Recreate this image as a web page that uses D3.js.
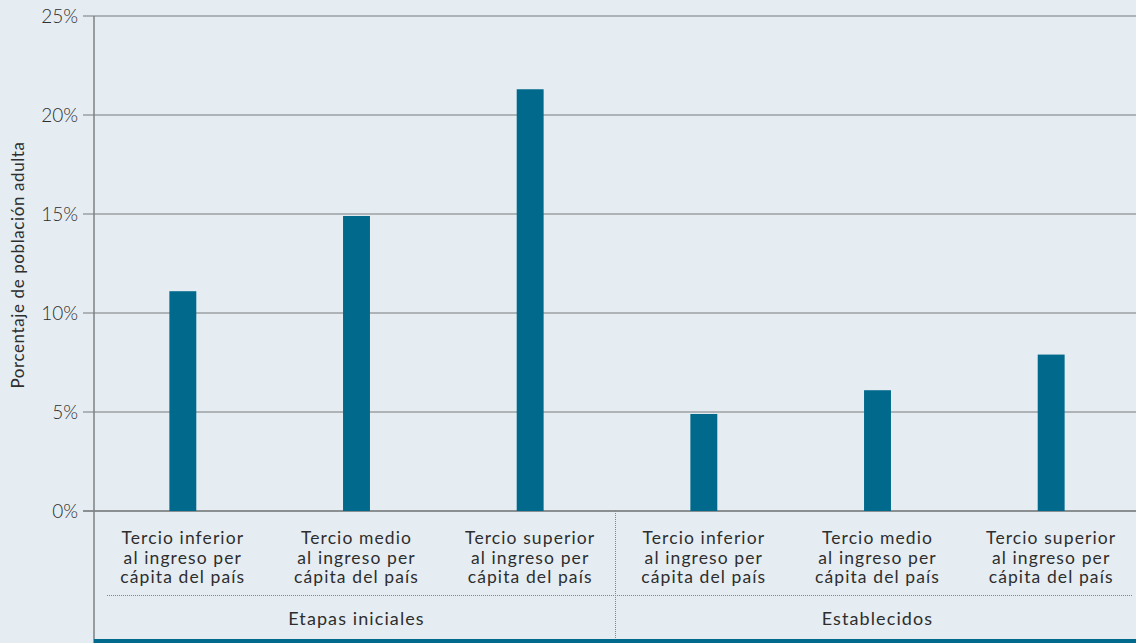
<!DOCTYPE html>
<html>
<head>
<meta charset="utf-8">
<script src="https://cdn.jsdelivr.net/npm/d3@7"></script>
<style>
  body { margin: 0; background: #e5edf3; }
  svg { display: block; font-family: Lato, "Noto Sans", sans-serif; }
</style>
</head>
<body>
<svg id="chart" width="1136" height="643"></svg>
<script>
// data
var groups = ['Etapas iniciales', 'Establecidos'];
var categories = ['Tercio inferior al ingreso per cápita del país',
                  'Tercio medio al ingreso per cápita del país',
                  'Tercio superior al ingreso per cápita del país'];
var labelLines = [['Tercio inferior', 'al ingreso per', 'cápita del país'],
                  ['Tercio medio', 'al ingreso per', 'cápita del país'],
                  ['Tercio superior', 'al ingreso per', 'cápita del país']];
var inicialesValues = [11.1, 14.9, 21.3];
var establecidosValues = [4.9, 6.1, 7.9];
var yTicks = [0, 5, 10, 15, 20, 25];

var rows = [];
groups.forEach(function(g, gi) {
    var vals = gi === 0 ? inicialesValues : establecidosValues;
    categories.forEach(function(c, ci) {
        rows.push({key: g + '|' + c, group: g, cat: ci, value: vals[ci]});
    });
});

var svg = d3.select('#chart');
var axisX = 94, plotRight = 1136;

var x = d3.scaleBand()
    .domain(rows.map(function(d) { return d.key; }))
    .range([96, 1138])
    .paddingInner(0.845)
    .paddingOuter(0.4225);

var y = d3.scaleLinear().domain([0, 25]).range([511, 16]);

// gridlines and ticks
svg.append('g').selectAll('line')
    .data(yTicks).enter().append('line')
    .attr('x1', 83).attr('x2', plotRight)
    .attr('y1', function(d) { return y(d); })
    .attr('y2', function(d) { return y(d); })
    .attr('stroke', function(d) { return d === 0 ? '#6b6f72' : '#9a9fa3'; })
    .attr('stroke-width', 1.5);

svg.append('g').selectAll('text')
    .data(yTicks).enter().append('text')
    .attr('x', 78).attr('y', function(d) { return y(d); })
    .attr('dy', '0.35em')
    .attr('text-anchor', 'end')
    .attr('font-size', 19).attr('fill', '#2e2e2e')
    .attr('font-weight', 300)
    .text(function(d) { return d + '%'; });

// y axis line
svg.append('line')
    .attr('x1', axisX).attr('x2', axisX)
    .attr('y1', y(25)).attr('y2', 643)
    .attr('stroke', '#7d8185').attr('stroke-width', 1.5);

svg.append('text')
    .attr('transform', 'translate(24,265) rotate(-90)')
    .attr('text-anchor', 'middle')
    .attr('font-size', 17).attr('fill', '#2e2e2e')
    .attr('letter-spacing', 0.6)
    .text('Porcentaje de población adulta');

// bars
svg.append('g').selectAll('rect')
    .data(rows).enter().append('rect')
    .attr('x', function(d) { return x(d.key); })
    .attr('width', x.bandwidth())
    .attr('y', function(d) { return y(d.value); })
    .attr('height', function(d) { return y(0) - y(d.value); })
    .attr('fill', '#00698c');

// category labels
var lab = svg.append('g').selectAll('text')
    .data(rows).enter().append('text')
    .attr('text-anchor', 'middle')
    .attr('font-size', 17.5).attr('fill', '#2e2e2e')
    .attr('letter-spacing', 1.1);
lab.selectAll('tspan')
    .data(function(d) {
        var cx = x(d.key) + x.bandwidth() / 2;
        return labelLines[d.cat].map(function(t, i) { return {t: t, cx: cx, i: i}; });
    })
    .enter().append('tspan')
    .attr('x', function(d) { return d.cx; })
    .attr('y', function(d) { return 544 + d.i * 19.5; })
    .text(function(d) { return d.t; });

// separators
svg.append('line')
    .attr('x1', 107).attr('x2', 1132).attr('y1', 595.5).attr('y2', 595.5)
    .attr('stroke', '#4a9bb5').attr('stroke-width', 1)
    .attr('stroke-dasharray', '1,1');

var midX = (x(rows[2].key) + x.bandwidth() + x(rows[3].key)) / 2 - 1.5;
svg.append('line')
    .attr('x1', midX).attr('x2', midX).attr('y1', 511).attr('y2', 640)
    .attr('stroke', '#4a9bb5').attr('stroke-width', 1)
    .attr('stroke-dasharray', '1,1');

// group labels
svg.append('g').selectAll('text')
    .data(groups).enter().append('text')
    .attr('x', function(g, gi) {
        var a = x(rows[gi * 3].key), b = x(rows[gi * 3 + 2].key);
        return (a + b) / 2 + x.bandwidth() / 2;
    })
    .attr('y', 625)
    .attr('text-anchor', 'middle')
    .attr('font-size', 18).attr('fill', '#2e2e2e')
    .attr('letter-spacing', 1.1)
    .text(function(d) { return d; });

// bottom rule
svg.append('rect')
    .attr('x', axisX).attr('y', 639).attr('width', plotRight - axisX).attr('height', 4)
    .attr('fill', '#00698c');
</script>
</body>
</html>
